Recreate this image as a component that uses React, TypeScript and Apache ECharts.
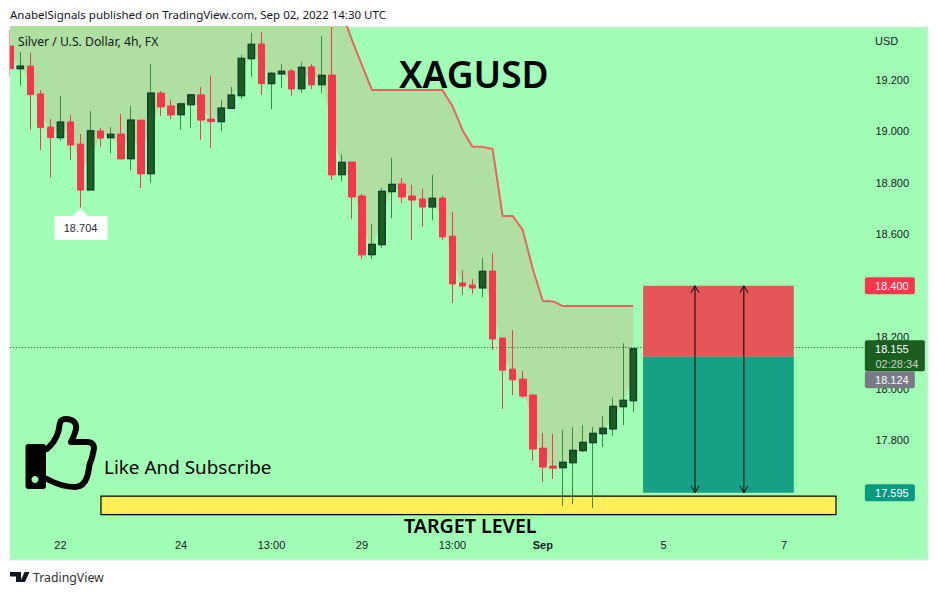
import React, { useEffect, useRef } from "react";
import * as echarts from "echarts";

// open, close, low, high
const candles: number[][] = [
  [19.332,19.244,19.213,19.394],[19.244,19.254,19.178,19.309],[19.254,19.143,19.006,19.305],[19.146,19.015,18.928,19.161],
  [19.017,18.976,18.820,19.048],[18.976,19.036,18.964,19.138],[19.037,18.947,18.889,19.064],[18.951,18.772,18.704,18.990],
  [18.773,19.002,18.773,19.079],[19.002,18.974,18.940,19.013],[18.976,18.989,18.916,19.017],[18.990,18.893,18.893,19.068],
  [18.894,19.044,18.850,19.099],[19.044,18.835,18.780,19.044],[18.836,19.149,18.800,19.262],[19.149,19.095,19.060,19.157],
  [19.099,19.064,19.048,19.122],[19.065,19.107,19.006,19.111],[19.104,19.142,19.013,19.146],[19.142,19.044,18.967,19.173],
  [19.048,19.038,18.936,19.216],[19.038,19.091,19.002,19.122],[19.090,19.141,19.088,19.173],[19.139,19.284,19.126,19.297],
  [19.283,19.339,19.212,19.383],[19.340,19.186,19.142,19.387],[19.186,19.226,19.087,19.231],[19.224,19.234,19.169,19.262],
  [19.235,19.165,19.138,19.243],[19.166,19.249,19.149,19.270],[19.251,19.181,19.165,19.262],[19.182,19.218,19.149,19.371],
  [19.219,18.831,18.811,19.406],[18.832,18.880,18.807,18.912],[18.881,18.745,18.660,18.881],[18.749,18.520,18.504,18.757],
  [18.521,18.561,18.504,18.640],[18.560,18.767,18.547,18.780],[18.766,18.794,18.663,18.897],[18.796,18.745,18.722,18.819],
  [18.749,18.733,18.578,18.792],[18.737,18.706,18.628,18.776],[18.707,18.740,18.656,18.831],[18.741,18.590,18.578,18.749],
  [18.593,18.407,18.333,18.687],[18.411,18.399,18.364,18.461],[18.403,18.391,18.368,18.426],[18.392,18.456,18.356,18.508],
  [18.457,18.193,18.150,18.527],[18.197,18.072,17.921,18.197],[18.076,18.034,17.975,18.228],[18.037,17.971,17.964,18.069],
  [17.975,17.765,17.719,17.979],[17.769,17.695,17.637,17.828],[17.699,17.691,17.649,17.824],[17.693,17.714,17.544,17.839],
  [17.712,17.760,17.551,17.851],[17.759,17.791,17.754,17.859],[17.790,17.826,17.536,17.851],[17.825,17.846,17.773,17.894],
  [17.844,17.931,17.816,17.964],[17.930,17.955,17.859,18.177],[17.953,18.155,17.909,18.155],
];

const fillLower: number[] = [
  19.289,19.251,19.2,19.079,18.998,19.006,18.994,18.862,18.889,18.988,18.982,18.941,18.971,18.940,18.994,19.122,
  19.081,19.087,19.122,19.093,19.044,19.064,19.114,19.212,19.311,19.262,19.206,19.229,19.2,19.208,19.216,19.2,
  19.025,18.856,18.813,18.634,18.541,18.663,18.780,18.770,18.741,18.722,18.724,18.665,18.500,18.405,18.397,18.424,
  18.325,18.135,18.055,18.004,17.870,17.732,17.695,17.703,17.736,17.775,17.808,17.835,17.888,17.942,18.053,
];

const trendLine: number[] = [
  19.6,19.6,19.6,19.6,19.6,19.6,19.6,19.6,19.6,19.6,19.6,19.6,19.6,19.6,19.6,19.6,19.6,19.6,19.6,19.6,19.6,19.6,19.6,19.6,
  19.6,19.6,19.6,19.6,19.6,19.6,19.6,19.6,19.57,19.464,19.356,19.258,19.161,19.161,19.161,19.161,19.161,19.161,19.161,19.161,
  19.099,19.006,18.940,18.940,18.932,18.671,18.671,18.617,18.465,18.341,18.339,18.321,18.321,18.321,18.321,18.321,18.321,18.321,18.321,
];

const timeTicks: Record<number, string> = { 5: "22", 17: "24", 26: "13:00", 35: "29", 44: "13:00", 53: "Sep", 65: "5", 77: "7" };
const priceTicks = [17.8, 18.0, 18.2, 18.4, 18.6, 18.8, 19.0, 19.2];
const slotCount = 86;
const categories = Array.from({ length: slotCount }, (_, i) => String(i));

const stopPrice = 18.4;
const entryPrice = 18.124;
const targetPrice = 17.595;
const lastPrice = 18.155;
const lowPrice = 18.704;
const lowIndex = 7;
const boxFrom = 62.97;
const boxTo = 77.97;
const arrowSlots = [68.14, 73.0];
const targetZone = [9.03, 82.17, 17.582, 17.51];

const FONT = "'Liberation Sans', Arial, sans-serif";
const UI = "'Noto Sans', sans-serif";
const INK = "#131722";
const RED = "#F7364B";
const GREEN = "#1B5E20";

echarts.graphic.registerShape(
  "thumb",
  echarts.graphic.extendPath(
    "M47 449 C52 444 56 440 58.5 431 C60 424 59 419 66 419 C73 419 77 423 76 429 C75 434 73 438 71 442 L87 442 C93 442 95 446 93.5 451 C92.5 456 91.5 460 90 463 C88.5 468 89 472 87 477 C85 483 82 487 75 487 C65 487 56 484 47 479",
    {}
  )
);
echarts.graphic.registerShape(
  "tvlogo",
  echarts.graphic.extendPath(
    "M10 572 H21 V582 H16 V576.5 H10 Z M24.5 572 H29.5 L25 582 H20 Z",
    {}
  )
);

function priceTag(value: number, text: string, fill: string, shift = 0, width = 50, sub?: string) {
  return {
    type: "custom",
    xAxisIndex: 1,
    yAxisIndex: 0,
    z: 20,
    silent: true,
    clip: false,
    encode: { x: 0, y: 1 },
    data: [[85.04, value]],
    renderItem: (_: any, api: any) => {
      const [x, y0] = api.coord([api.value(0), api.value(1)]);
      const y = y0 + shift;
      const h = sub ? 31 : 17;
      const kids: any[] = [
        { type: "rect", shape: { x, y: y - 8.5, width, height: h, r: 2 }, style: { fill } },
        {
          type: "text",
          style: { text, x: x + 27, y, textAlign: "center", textVerticalAlign: "middle", fill: "#fff", fontSize: 11, fontFamily: FONT },
        },
      ];
      if (sub)
        kids.push({
          type: "text",
          style: { text: sub, x: x + 32, y: y + 15, textAlign: "center", textVerticalAlign: "middle", fill: "#C6D6C6", fontSize: 11, fontFamily: FONT },
        });
      return { type: "group", children: kids };
    },
  };
}

function uiText(text: string, x: number, y: number, size: number, extra: any = {}) {
  return {
    type: "text",
    z: 100,
    silent: true,
    x,
    y,
    style: { text, fontSize: size, fontFamily: UI, fill: INK, textVerticalAlign: "middle", ...extra },
  };
}

export default function App() {
  const ref = useRef<HTMLDivElement>(null);
  useEffect(() => {
    const chart = echarts.init(ref.current!, null, { renderer: "svg" });
    const option: any = {
      animation: false,
      backgroundColor: "#ffffff",
      grid: { left: 10.2, right: 73.55, top: 27, bottom: 52, containLabel: false },
      xAxis: [
        {
          type: "category",
          data: categories,
          boundaryGap: false,
          axisLine: { show: false },
          axisTick: { show: false },
          splitLine: { show: false },
          axisLabel: {
            interval: 0,
            margin: -4,
            color: INK,
            fontSize: 11,
            fontFamily: FONT,
            formatter: (v: string) => {
              const t = timeTicks[Number(v)];
              if (!t) return "";
              return t === "Sep" ? "{b|Sep}" : t;
            },
            rich: { b: { fontWeight: "bold", fontSize: 11, fontFamily: FONT, color: INK } },
          },
        },
        { type: "value", min: 0, max: slotCount - 1, show: false },
      ],
      yAxis: [
        {
          type: "value",
          position: "right",
          min: 17.4,
          max: 19.406,
          scale: true,
          axisLine: { show: false },
          axisTick: { show: false },
          splitLine: { show: false },
          axisLabel: {
            customValues: priceTicks,
            margin: 11,
            color: INK,
            fontSize: 11,
            fontFamily: FONT,
            formatter: (v: number) => v.toFixed(3),
          },
        },
      ],
      graphic: {
        elements: [
          { type: "rect", z: -10, silent: true, shape: { x: 10, y: 27, width: 918, height: 533 }, style: { fill: "#A0FFB5", stroke: "#E0E3EB", lineWidth: 1 } },
          { type: "rect", z: 90, silent: true, shape: { x: 0, y: 27, width: 9.5, height: 62 }, style: { fill: "#fff" } },
          uiText("AnabelSignals published on TradingView.com, Sep 02, 2022 14:30 UTC", 10, 14.5, 11.5),
          uiText("Silver / U.S. Dollar, 4h, FX", 18, 41.5, 12.2),
          uiText("USD", 875, 41, 11, { fontFamily: FONT }),
          uiText("XAGUSD", 399, 73, 37, { fill: "#000", fontWeight: 600 }),
          uiText("Like And Subscribe", 104, 467, 18.9, { fill: "#000" }),
          uiText("TARGET LEVEL", 404, 525.5, 19.6, { fill: "#000", fontWeight: 600 }),
          uiText("TradingView", 33, 577, 12.3, { fill: "#333" }),
          { type: "tvlogo", z: 100, silent: true, style: { fill: "#131722" } },
          { type: "rect", z: 100, silent: true, shape: { x: 25.5, y: 444, width: 20.5, height: 45, r: 3 }, style: { fill: "#000" } },
          { type: "thumb", z: 100, silent: true, style: { fill: "none", stroke: "#000", lineWidth: 6, lineCap: "round", lineJoin: "round" } },
          { type: "circle", z: 101, silent: true, shape: { cx: 35, cy: 479.5, r: 3.5 }, style: { fill: "#A0FFB5" } },
        ],
      },
      series: [
        {
          type: "line",
          stack: "band",
          z: 1,
          silent: true,
          showSymbol: false,
          data: fillLower,
          lineStyle: { opacity: 0, width: 0 },
        },
        {
          type: "line",
          stack: "band",
          z: 1,
          silent: true,
          showSymbol: false,
          data: trendLine.map((u, i) => u - fillLower[i]),
          lineStyle: { color: "#F0605F", width: 2 },
          areaStyle: { color: "#B0DFA2", opacity: 1 },
        },
        {
          type: "custom",
          xAxisIndex: 1,
          z: 2,
          silent: true,
          encode: { x: [0, 1], y: [2, 3] },
          data: [targetZone],
          renderItem: (_: any, api: any) => {
            const a = api.coord([api.value(0), api.value(2)]);
            const b = api.coord([api.value(1), api.value(3)]);
            return {
              type: "rect",
              shape: { x: a[0], y: a[1], width: b[0] - a[0], height: b[1] - a[1] },
              style: { fill: "#FFEE58", stroke: "#000", lineWidth: 1.2 },
            };
          },
        },
        {
          type: "candlestick",
          z: 3,
          silent: true,
          barWidth: 7,
          clip: true,
          data: candles,
          itemStyle: { color: GREEN, color0: RED, borderColor: "#388E3C", borderColor0: RED, borderWidth: 1 },
          markLine: {
            silent: true,
            symbol: "none",
            label: { show: false },
            lineStyle: { color: GREEN, type: [1, 2], width: 1 },
            data: [{ yAxis: lastPrice }],
          },
        },
        {
          // dark outline of rising bodies, over the candles' wick colour
          type: "custom",
          z: 4,
          silent: true,
          clip: true,
          encode: { x: 0, y: [1, 2] },
          data: candles.map((c, i) => [i, c[0], c[1]]).filter((d) => d[2] > d[1]),
          renderItem: (_: any, api: any) => {
            const a = api.coord([api.value(0), api.value(1)]);
            const b = api.coord([api.value(0), api.value(2)]);
            return {
              type: "rect",
              shape: { x: a[0] - 3.25, y: b[1], width: 6.5, height: Math.max(a[1] - b[1], 1) },
              style: { fill: GREEN, stroke: "#0E3B34", lineWidth: 1.2 },
            };
          },
        },
        {
          type: "custom",
          xAxisIndex: 1,
          z: 5,
          silent: true,
          encode: { x: [0, 1], y: [2, 3] },
          data: [
            [boxFrom, boxTo, stopPrice, entryPrice, 0],
            [boxFrom, boxTo, entryPrice, targetPrice, 1],
          ],
          renderItem: (_: any, api: any) => {
            const a = api.coord([api.value(0), api.value(2)]);
            const b = api.coord([api.value(1), api.value(3)]);
            return {
              type: "rect",
              shape: { x: a[0], y: a[1], width: b[0] - a[0], height: b[1] - a[1] },
              style: { fill: api.value(4) === 0 ? "#E65557" : "#16A085" },
            };
          },
        },
        {
          type: "custom",
          xAxisIndex: 1,
          z: 6,
          silent: true,
          encode: { x: 0, y: [1, 2] },
          data: arrowSlots.map((x) => [x, stopPrice, targetPrice]),
          renderItem: (_: any, api: any) => {
            const a = api.coord([api.value(0), api.value(1)]);
            const b = api.coord([api.value(0), api.value(2)]);
            const st = { stroke: "#000", lineWidth: 1, fill: "none" };
            return {
              type: "group",
              children: [
                { type: "line", shape: { x1: a[0], y1: a[1], x2: b[0], y2: b[1] }, style: st },
                { type: "polyline", shape: { points: [[a[0] - 4, a[1] + 7], [a[0], a[1]], [a[0] + 4, a[1] + 7]] }, style: st },
                { type: "polyline", shape: { points: [[b[0] - 4, b[1] - 7], [b[0], b[1]], [b[0] + 4, b[1] - 7]] }, style: st },
              ],
            };
          },
        },
        {
          // low marker under the swing-low candle
          type: "custom",
          z: 8,
          silent: true,
          clip: false,
          encode: { x: 0, y: 1 },
          data: [[lowIndex, lowPrice]],
          renderItem: (_: any, api: any) => {
            const [x, y] = api.coord([api.value(0), api.value(1)]);
            return {
              type: "group",
              children: [
                { type: "polygon", shape: { points: [[x - 8, y + 9], [x, y + 1], [x + 8, y + 9]] }, style: { fill: "#fff" } },
                { type: "rect", shape: { x: x - 26, y: y + 8.5, width: 53, height: 24, r: 2 }, style: { fill: "#fff" } },
                {
                  type: "text",
                  style: { text: lowPrice.toFixed(3), x: x, y: y + 20.5, textAlign: "center", textVerticalAlign: "middle", fill: "#2A2E39", fontSize: 11, fontFamily: FONT },
                },
              ],
            };
          },
        },
        priceTag(stopPrice, "18.400", RED),
        priceTag(lastPrice, "18.155", GREEN, 0, 60, "02:28:34"),
        priceTag(entryPrice, "18.124", "#787B86", 23),
        priceTag(targetPrice, "17.595", "#089981"),
      ],
    };
    chart.setOption(option);
    return () => chart.dispose();
  }, []);
  return <div ref={ref} style={{ position: "absolute", left: 0, top: 0, width: 938, height: 595 }} />;
}
